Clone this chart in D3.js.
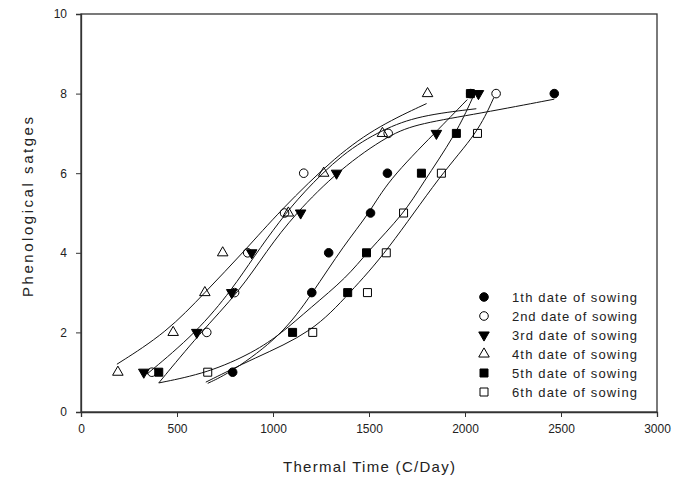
<!DOCTYPE html>
<html><head><meta charset="utf-8">
<script src="https://cdn.jsdelivr.net/npm/d3@7/dist/d3.min.js"></script>
<style>body{margin:0;background:#fff}svg{display:block}</style>
</head><body><svg id="c" width="687" height="479"></svg>
<script>
// ---- data (thermal time, stage) ----
const seriesNames = ["1th date of sowing","2nd date of sowing","3rd date of sowing","4th date of sowing","5th date of sowing","6th date of sowing"];
const s1x = [790, 1202, 1290, 1508, 1596, 2030, 2465];
const s1y = [1, 3, 4, 5, 6, 8, 8];
const s2x = [369, 655, 800, 868, 1060, 1160, 1600, 2162];
const s2y = [1, 2, 3, 4, 5, 6, 7, 8];
const s3x = [327, 603, 785, 889, 1144, 1331, 1851, 2070];
const s3y = [1, 2, 3, 4, 5, 6, 7, 8];
const s4x = [192, 480, 645, 738, 1080, 1264, 1570, 1805];
const s4y = [1, 2, 3, 4, 5, 6, 7, 8];
const s5x = [405, 1102, 1389, 1487, 1773, 1955, 2028];
const s5y = [1, 2, 3, 4, 6, 7, 8];
const s6x = [660, 1207, 1492, 1590, 1680, 1877, 2065];
const s6y = [1, 2, 3, 4, 5, 6, 7];

// fitted curves, values
const f1x = [660, 783, 1045, 1201, 1370, 1503, 1596, 1851, 2012];
const f1y = [0.72, 1.0, 1.92, 2.95, 4.2, 5.0, 5.8, 7.05, 7.85];
const f2x = [405, 619, 827, 967, 1113, 1347, 1607, 1763, 2075, 2465];
const f2y = [0.73, 1.98, 3.04, 4.05, 4.97, 6.1, 6.98, 7.25, 7.5, 7.86];
const f3x = [343, 603, 790, 900, 1035, 1154, 1362, 1570, 1763, 2059];
const f3y = [0.95, 2.0, 3.1, 3.9, 4.8, 5.5, 6.5, 7.1, 7.45, 7.62];
const f4x = [187, 447, 645, 853, 1035, 1331, 1555, 1800];
const f4y = [1.2, 2.0, 3.0, 4.05, 5.05, 6.45, 7.2, 7.75];
const f5x = [405, 660, 900, 1045, 1191, 1389, 1487, 1685, 1773, 1955, 2040];
const f5y = [0.73, 0.98, 1.5, 1.98, 2.6, 3.4, 4.0, 5.0, 5.7, 7.0, 7.9];
const f6x = [650, 900, 1207, 1400, 1590, 1877, 2065, 2150];
const f6y = [0.75, 1.35, 2.0, 3.0, 4.0, 6.0, 7.0, 7.9];

const xTicks = [0, 500, 1000, 1500, 2000, 2500, 3000];
const yTicks = [0, 2, 4, 6, 8, 10];
const xTitle = "Thermal Time (C/Day)";
const yTitle = "Phenological satges";

// ---- drawing ----
const svg = d3.select("#c");
const m = {l: 81, r: 657, t: 14, b: 412};
const x = d3.scaleLinear().domain([0, 3000]).range([m.l, m.r]);
const y = d3.scaleLinear().domain([0, 10]).range([m.b, m.t]);
const font = "Liberation Sans, Arial, sans-serif";

const series = [
  {xs: s1x, ys: s1y, fx: f1x, fy: f1y, type: d3.symbolCircle, fill: true, rot: 0, size: 58},
  {xs: s2x, ys: s2y, fx: f2x, fy: f2y, type: d3.symbolCircle, fill: false, rot: 0, size: 58},
  {xs: s3x, ys: s3y, fx: f3x, fy: f3y, type: d3.symbolTriangle, fill: true, rot: 180, size: 48},
  {xs: s4x, ys: s4y, fx: f4x, fy: f4y, type: d3.symbolTriangle, fill: false, rot: 0, size: 48},
  {xs: s5x, ys: s5y, fx: f5x, fy: f5y, type: d3.symbolSquare, fill: true, rot: 0, size: 64},
  {xs: s6x, ys: s6y, fx: f6x, fy: f6y, type: d3.symbolSquare, fill: false, rot: 0, size: 64}
];

// frame
svg.append("rect").attr("x", m.l).attr("y", m.t).attr("width", m.r - m.l).attr("height", m.b - m.t)
  .attr("fill", "none").attr("stroke", "#333").attr("stroke-width", 1.3);

// axes
const xAxis = d3.axisBottom(x).tickValues(xTicks).tickSize(5).tickPadding(7).tickFormat(d3.format("d"));
const gx = svg.append("g").attr("transform", `translate(0,${m.b})`).call(xAxis);
const yAxis = d3.axisLeft(y).tickValues(yTicks).tickSize(5).tickPadding(9).tickFormat(d3.format("d"));
const gy = svg.append("g").attr("transform", `translate(${m.l},0)`).call(yAxis);
[gx, gy].forEach(g => {
  g.select(".domain").attr("stroke", "#333").attr("stroke-width", 1.3);
  g.selectAll(".tick line").attr("stroke", "#333");
  g.selectAll("text").attr("font-family", font).attr("font-size", 12).attr("fill", "#222");
});

svg.append("text").attr("x", (m.l + m.r) / 2).attr("y", 472).attr("text-anchor", "middle")
  .attr("font-family", font).attr("font-size", 15).attr("fill", "#222")
  .attr("textLength", 172).attr("lengthAdjust", "spacing").text(xTitle);
svg.append("text").attr("transform", `translate(33,${(m.t + m.b) / 2 - 6}) rotate(-90)`).attr("text-anchor", "middle")
  .attr("font-family", font).attr("font-size", 15).attr("fill", "#222")
  .attr("textLength", 180).attr("lengthAdjust", "spacing").text(yTitle);

// curves
const line = d3.line().x(d => x(d[0])).y(d => y(d[1])).curve(d3.curveBasis);
series.forEach(s => {
  svg.append("path").datum(s.fx.map((v, i) => [v, s.fy[i]]))
    .attr("d", line).attr("fill", "none").attr("stroke", "#111").attr("stroke-width", 1);
});

// markers
function sym(g, s, cx, cy) {
  g.append("path").attr("d", d3.symbol().type(s.type).size(s.size)())
    .attr("transform", `translate(${cx},${cy}) rotate(${s.rot})`)
    .attr("fill", s.fill ? "#000" : "none").attr("stroke", "#000").attr("stroke-width", 1);
}
series.forEach(s => {
  const g = svg.append("g");
  s.xs.forEach((v, i) => sym(g, s, x(v), y(s.ys[i])));
});

// legend
const lg = svg.append("g");
seriesNames.forEach((name, i) => {
  const cy = 297 + i * 19;
  sym(lg, series[i], 484, cy);
  lg.append("text").attr("x", 512).attr("y", cy + 5).attr("font-family", font).attr("font-size", 13)
    .attr("fill", "#222").attr("textLength", 125).attr("lengthAdjust", "spacing").text(name);
});
</script></body></html>
